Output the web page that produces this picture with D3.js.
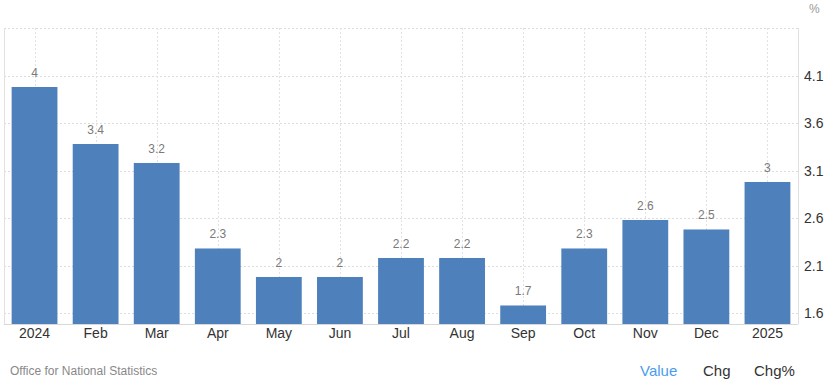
<!DOCTYPE html>
<html>
<head>
<meta charset="utf-8">
<script src="https://cdn.jsdelivr.net/npm/d3@7"></script>
<style>
  body { margin: 0; background: #fff; }
  svg { display: block; font-family: "Liberation Sans", Arial, sans-serif; }
</style>
</head>
<body>
<svg id="chart" width="834" height="386"></svg>
<script>
var months = ["2024", "Feb", "Mar", "Apr", "May", "Jun", "Jul", "Aug", "Sep", "Oct", "Nov", "Dec", "2025"];
var values = [4, 3.4, 3.2, 2.3, 2, 2, 2.2, 2.2, 1.7, 2.3, 2.6, 2.5, 3];
// tick positions sit a little above the round labels they show
var yTicks = [1.62, 2.12, 2.62, 3.12, 3.62, 4.12];
var legendItems = ["Value", "Chg", "Chg%"];

var svg = d3.select("#chart");
var plotLeft = 4, plotRight = 798, plotTop = 28, plotBottom = 324;

var x = d3.scaleBand()
  .domain(months)
  .range([plotLeft, plotRight])
  .paddingInner(0.25)
  .paddingOuter(0.125);

var y = d3.scaleLinear()
  .domain([1.505, 4.621])
  .range([plotBottom, plotTop]);

// grid
var grid = svg.append("g");
grid.selectAll(".hg")
  .data(yTicks.concat([4.621]))
  .enter().append("line")
  .attr("x1", plotLeft).attr("x2", plotRight)
  .attr("y1", function(d) { return Math.round(y(d)) + 0.5; })
  .attr("y2", function(d) { return Math.round(y(d)) + 0.5; })
  .attr("stroke", "#dcdcdc")
  .attr("stroke-dasharray", "2,2");
grid.selectAll(".vg")
  .data(months)
  .enter().append("line")
  .attr("x1", function(d) { return Math.round(x(d) + x.bandwidth() / 2) + 0.5; })
  .attr("x2", function(d) { return Math.round(x(d) + x.bandwidth() / 2) + 0.5; })
  .attr("y1", plotTop).attr("y2", plotBottom)
  .attr("stroke", "#e2e2e2")
  .attr("stroke-dasharray", "2,2");

// borders
svg.append("line").attr("x1", plotLeft + 0.5).attr("x2", plotLeft + 0.5).attr("y1", plotTop).attr("y2", plotBottom)
  .attr("stroke", "#e0e0e0");
svg.append("line").attr("x1", plotRight + 0.5).attr("x2", plotRight + 0.5).attr("y1", plotTop).attr("y2", plotBottom)
  .attr("stroke", "#e0e0e0");

// bars
svg.selectAll(".bar")
  .data(values)
  .enter().append("rect")
  .attr("x", function(d, i) { return x(months[i]); })
  .attr("width", x.bandwidth())
  .attr("y", function(d) { return y(d); })
  .attr("height", function(d) { return plotBottom - y(d); })
  .attr("fill", "#4e80bc");

// value labels
svg.selectAll(".lbl")
  .data(values)
  .enter().append("text")
  .attr("x", function(d, i) { return x(months[i]) + x.bandwidth() / 2; })
  .attr("y", function(d) { return y(d) - 10; })
  .attr("text-anchor", "middle")
  .attr("font-size", 12)
  .attr("fill", "#7a7a7a")
  .text(function(d) { return d; });

// x axis
svg.append("line").attr("x1", plotLeft).attr("x2", plotRight).attr("y1", plotBottom + 0.5).attr("y2", plotBottom + 0.5)
  .attr("stroke", "#d8d8d8");
var xAxis = d3.axisBottom(x).tickSize(0).tickPadding(4);
var gx = svg.append("g").attr("transform", "translate(0," + plotBottom + ")").call(xAxis);
gx.select(".domain").remove();
gx.selectAll("text").attr("font-size", 14).attr("fill", "#333").attr("font-family", "Liberation Sans, Arial, sans-serif");

// y axis
var yAxis = d3.axisRight(y).tickValues(yTicks).tickFormat(d3.format(".1f")).tickSize(0).tickPadding(6);
var gy = svg.append("g").attr("transform", "translate(" + plotRight + ",0)").call(yAxis);
gy.select(".domain").remove();
gy.selectAll("text").attr("font-size", 14).attr("fill", "#333").attr("font-family", "Liberation Sans, Arial, sans-serif");

svg.append("text").attr("x", 809).attr("y", 13).attr("font-size", 12).attr("fill", "#999").text("%");

// source
svg.append("text").attr("x", 10).attr("y", 375).attr("font-size", 12).attr("fill", "#888")
  .text("Office for National Statistics");

// legend
var legendX = [640, 703, 754];
svg.selectAll(".leg")
  .data(legendItems)
  .enter().append("text")
  .attr("x", function(d, i) { return legendX[i]; })
  .attr("y", 376)
  .attr("font-size", 15)
  .attr("fill", function(d, i) { return i === 0 ? "#4a9cf0" : "#333"; })
  .text(function(d) { return d; });
</script>
</body>
</html>
